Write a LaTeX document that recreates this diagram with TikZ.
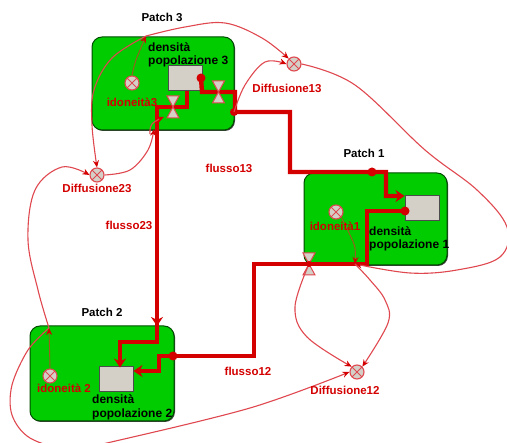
\documentclass[tikz,border=0pt]{standalone}
\usepackage{fontspec}
\setmainfont{Liberation Sans}
\usetikzlibrary{arrows.meta}
\definecolor{pgreen}{HTML}{00CC00}
\definecolor{fred}{HTML}{D40000}
\definecolor{lred}{HTML}{E04850}
\definecolor{sgrey}{HTML}{D4D0C8}
\definecolor{bline}{HTML}{A05A20}
\tikzset{
  x=1pt,y=-1pt,
  patchbox/.style={draw=black!70!green,fill=pgreen,rounded corners=10pt,line width=1pt,minimum width=#1,inner sep=0pt},
  stockbox/.style={draw=black!70,fill=sgrey,line width=1pt,minimum width=34pt,minimum height=25pt,inner sep=0pt},
  conv/.style={circle,draw=lred,fill=sgrey,line width=1.1pt,minimum size=14pt,inner sep=0pt,
    path picture={\draw[lred,line width=.8pt] (path picture bounding box.north west)--(path picture bounding box.south east)
      (path picture bounding box.north east)--(path picture bounding box.south west);}},
  flowline/.style={draw=fred,line width=4.4pt,line join=miter},
  flowtip/.style={-{Stealth[length=9pt,width=12pt]}},
  curve/.style={draw=lred,line width=1.1pt,-{Stealth[length=7pt,width=6pt,fred]}},
  brown/.style={draw=bline,line width=.9pt,-{Stealth[length=7pt,width=6pt,fred]}},
  dot/.style={circle,fill=fred,minimum size=9pt,inner sep=0pt},
  red lab/.style={text=fred,font=\fontsize{11.5}{12}\selectfont\bfseries,inner sep=0pt},
  blk lab/.style={text=black,font=\fontsize{12}{12}\selectfont\bfseries,inner sep=0pt,anchor=west},
  title lab/.style={text=black,font=\fontsize{11.5}{12}\selectfont\bfseries,inner sep=0pt},
  valvefill/.style={fill=sgrey,draw=lred,line width=1pt}
}
\newcommand{\valvemark}[3]{%
  \coordinate (#1) at (#2,#3);
  \draw[valvefill] ([shift={(-6,-11)}]#1) -- ([shift={(6,-11)}]#1) -- ([shift={(-6,11)}]#1) -- ([shift={(6,11)}]#1) -- cycle;
}
\begin{document}
\begin{tikzpicture}
\useasboundingbox (0,0) rectangle (507,443);
\clip (0,0) rectangle (507,443);
\fill[white] (0,0) rectangle (507,443);
% patches
\fill[black!75,rounded corners=10pt] (93,38) rectangle (235,131);
\fill[black!75,rounded corners=10pt] (305,174) rectangle (448,266);
\fill[black!75,rounded corners=10pt] (31,327) rectangle (175,422);
\node[patchbox=142pt,minimum height=93pt] (p3) at (163,83.5) {};
\node[patchbox=143pt,minimum height=92pt] (p1) at (375.5,219) {};
\node[patchbox=144pt,minimum height=95pt] (p2) at (102,373.5) {};
% stocks
\node[stockbox] (s3) at (185,78.5) {};
\node[stockbox] (s1) at (422,208) {};
\node[stockbox] (s2) at (116,379.5) {};
% junctions
\coordinate (j13) at (234,112);
\node[dot] (d3) at (201,78) {};
\node[dot] (d1) at (405,211) {};
\node[dot] (d13) at (372,172) {};
\node[dot] (d12) at (173,356) {};
\coordinate (j3) at (157,128);
\coordinate (j2) at (157,326);
\coordinate (j1) at (355,264);
\coordinate (top3) at (146,36);
\coordinate (top2) at (49,328);
% flows
\draw[flowline,flowtip] (d3.center) -- (202,92) -- (235,92) -- (235,112) -- (290,112) -- (290,172) -- (386,172) -- (386,196) -- (s1.west |- 0,196);
\node[dot,minimum size=8pt] at (j13) {};
\draw[flowline,flowtip] (s3.south -| 187,0) -- (187,107) -- (157,107) -- (157,342) -- (120,342) -- (120,367.5);
\draw[flowline,-{Stealth[length=9pt,width=12pt]}] (157,300) -- (j2);
\draw[flowline,flowtip] (d1.center) -- (367,211) -- (367,264) -- (254,264) -- (254,356) -- (159,356) -- (159,371) -- (s2.east |- 0,371);
% valves
\valvemark{v13}{218.5}{92}
\valvemark{v23}{173}{107}
\valvemark{v12}{309}{264}
% converters
\node[conv] (c3) at (132,83) {};
\node[conv] (c1) at (336,212) {};
\node[conv] (c2) at (50,376) {};
\node[conv] (f13) at (294,64) {};
\node[conv] (f23) at (97,175) {};
\node[conv] (f12) at (357,372) {};
% information links
\draw[brown] plot[smooth,tension=.6] coordinates {(c3.north) (136,60) (top3)};
\draw[brown] plot[smooth,tension=.6] coordinates {(c1.south east) (350,235) (355,248) (j1)};
\draw[brown] (c2.north) -- (top2);
\draw[curve] plot[smooth,tension=.6] coordinates {(top3) (185,27) (225,23) (262,38) (f13.north west)};
\draw[curve] plot[smooth,tension=.6] coordinates {(top3) (112,58) (94,90) (92,125) (f23.north)};
\draw[curve] plot[smooth,tension=.6] coordinates {(j13) (245,85) (265,62) (f13.west)};
\draw[curve] plot[smooth,tension=.6] coordinates {(f13.east) (355,85) (425,150) (477,190) (507,227) (500,257) (457,270) (410,273) (j1)};
\draw[curve] plot[smooth,tension=.6] coordinates {(f23.east) (130,170) (148,150) (154,129)};
\draw[curve] plot[smooth,tension=.7] coordinates {(150,134) (152,124) (164,117)};
\draw[curve] plot[smooth,tension=.6] coordinates {(top2) (38,290) (28,240) (35,190) (62,167) (f23.west)};
\draw[curve] plot[smooth,tension=.55] coordinates {(top2) (28,350) (12,385) (12,415) (30,438) (70,450) (107,443) (250,408) (f12.west)};
\draw[curve] plot[smooth,tension=.6] coordinates {(v12) (295,307) (307,337) (f12.north west)};
\draw[curve] plot[smooth,tension=.6] coordinates {(j1) (370,280) (385,300) (388,323) (f12.north east)};
\fill[fred] (v12) circle (3pt);
% labels
\node[title lab] (t3) at (162,17) {Patch 3};
\node[title lab] (t1) at (364,153) {Patch 1};
\node[title lab] (t2) at (102,312) {Patch 2};
\node[blk lab] (n3a) at (148,47) {densità};
\node[blk lab] (n3b) at (148,61) {popolazione 3};
\node[blk lab] (n1a) at (369,231) {densità};
\node[blk lab] (n1b) at (369,245) {popolazione 1};
\node[blk lab] (n2a) at (92,399) {densità};
\node[blk lab] (n2b) at (92,414) {popolazione 2};
\node[red lab] (l3) at (132,102) {idoneità3};
\node[red lab] (l1) at (335,226) {idoneità1};
\node[red lab] (l2) at (64,388) {idoneità 2};
\node[red lab] (l13) at (287,88) {Diffusione13};
\node[red lab] (l23) at (97,188) {Diffusione23};
\node[red lab] (l12) at (345,390) {Diffusione12};
\node[red lab] (lf13) at (229,168) {flusso13};
\node[red lab] (lf23) at (129,225) {flusso23};
\node[red lab] (lf12) at (248,371) {flusso12};
\end{tikzpicture}
\end{document}
